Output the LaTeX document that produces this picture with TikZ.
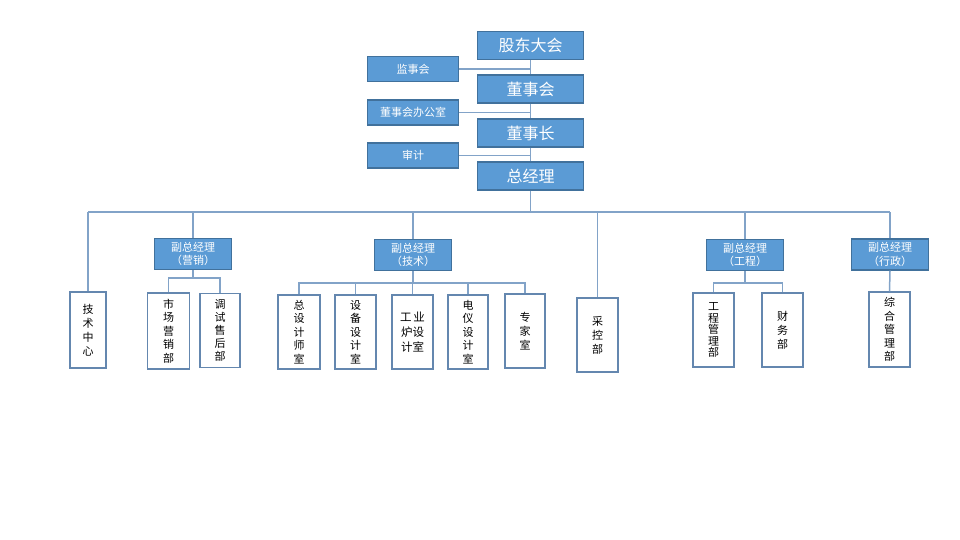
\documentclass[tikz,border=0pt]{standalone}
\usepackage{fontspec}
\setmainfont{Noto Sans CJK SC}
\definecolor{bfill}{RGB}{91,155,213}
\definecolor{bborder}{RGB}{65,113,156}
\definecolor{lcol}{RGB}{130,163,200}
\definecolor{wborder}{RGB}{100,135,175}
\tikzset{
  bigbox/.style={draw=bborder, fill=bfill, line width=1.3pt, minimum width=106pt, minimum height=28pt, text=white, inner sep=0pt, font=\fontsize{16}{18}\selectfont},
  sidebox/.style={draw=bborder, fill=bfill, line width=1.3pt, minimum width=91pt, minimum height=25pt, text=white, inner sep=0pt, font=\fontsize{11}{13}\selectfont},
  vpbox/.style={draw=bborder, fill=bfill, line width=1.3pt, minimum width=77pt, minimum height=31pt, text=white, inner sep=0pt, align=center, font=\fontsize{11}{13.5}\selectfont},
  deptbox/.style={draw=wborder, fill=white, line width=1.3pt, minimum width=40pt, minimum height=74pt, inner sep=0pt, align=center, font=\fontsize{11}{14}\selectfont},
  conn/.style={draw=lcol, line width=1.5pt}
}
\begin{document}
\begin{tikzpicture}[x=1pt,y=-1pt]
\useasboundingbox (0,0) rectangle (960,540);
% top chain
\node[bigbox] (gd)  at (530.5,45.5) {股东大会};
\node[bigbox] (dsh) at (530.5,89)   {董事会};
\node[bigbox] (dsz) at (530.5,133)  {董事长};
\node[bigbox] (zjl) at (530.5,176)  {总经理};
\node[sidebox] (jsh)  at (413,69)    {监事会};
\node[sidebox] (dsbg) at (413,112.5) {董事会办公室};
\node[sidebox] (sj)   at (413,155.5) {审计};
% vice presidents
\node[vpbox] (vp1) at (193,254) {副总经理\\（营销）};
\node[vpbox] (vp2) at (413,255) {副总经理\\（技术）};
\node[vpbox] (vp3) at (745,255) {副总经理\\（工程）};
\node[vpbox] (vp4) at (890,254.5) {副总经理\\（行政）};
% departments
\node[deptbox, minimum width=36pt, minimum height=76pt] (jszx) at (88,330) {技\\术\\中\\心};
\node[deptbox, minimum width=42pt, minimum height=76pt, font=\fontsize{11}{13.5}\selectfont] (scyx) at (168.5,331) {市\\场\\营\\销\\部};
\node[deptbox, font=\fontsize{11}{13}\selectfont] (tssh) at (220,330.5) {调\\试\\售\\后\\部};
\node[deptbox, minimum width=42pt, font=\fontsize{11}{13.5}\selectfont] (zsjs) at (299,332) {总\\设\\计\\师\\室};
\node[deptbox, minimum width=41pt, font=\fontsize{11}{13.5}\selectfont] (sbsj) at (355.5,332) {设\\备\\设\\计\\室};
\node[deptbox, minimum width=41pt, font=\fontsize{11.5}{15}\selectfont] (gylsj) at (412.5,332) {工\,业\\炉设\\计室};
\node[deptbox, font=\fontsize{11}{13.5}\selectfont] (dysj) at (468,332) {电\\仪\\设\\计\\室};
\node[deptbox] (zjs) at (525,331) {专\\家\\室};
\node[deptbox, minimum width=41pt] (ckb) at (597.5,335) {采\\控\\部};
\node[deptbox, minimum width=41pt, font=\fontsize{11}{11.5}\selectfont] (gcgl) at (713.5,330) {工\\程\\管\\理\\部};
\node[deptbox, minimum width=41pt] (cwb) at (782.5,330) {财\\务\\部};
\node[deptbox, minimum width=41pt, minimum height=75pt, font=\fontsize{11}{13.5}\selectfont] (zhgl) at (889.5,329.5) {综\\合\\管\\理\\部};
% bus
\coordinate (busL) at (88,212);
\coordinate (busR) at (890,212);
% spine
\draw[conn] (gd.south) -- (dsh.north);
\draw[conn] (dsh.south) -- (dsz.north);
\draw[conn] (dsz.south) -- (zjl.north);
\draw[conn] (zjl.south) -- (zjl.south |- busL);
\draw[conn] (jsh.east) -- (jsh.east -| gd.south);
\draw[conn] (dsbg.east) -- (dsbg.east -| gd.south);
\draw[conn] (sj.east) -- (sj.east -| gd.south);
% horizontal bus and drops
\draw[conn] (busL) -- (busR);
\draw[conn] (busL) -- (jszx.north);
\draw[conn] (vp1.north |- busL) -- (vp1.north);
\draw[conn] (vp2.north |- busL) -- (vp2.north);
\draw[conn] (ckb.north |- busL) -- (ckb.north);
\draw[conn] (vp3.north |- busL) -- (vp3.north);
\draw[conn] (busR) -- (vp4.north);
% sub-trees
\draw[conn] (vp1.south) -- ++(0,8) -| (scyx.north);
\draw[conn] (vp1.south) -- ++(0,8) -| (tssh.north);
\foreach \c in {zsjs,sbsj,gylsj,dysj,zjs}{
  \draw[conn] (vp2.south) -- ++(0,12) -| (\c.north);
}
\draw[conn] (vp3.south) -- ++(0,12) -| (gcgl.north);
\draw[conn] (vp3.south) -- ++(0,12) -| (cwb.north);
\draw[conn] (vp4.south) -- (zhgl.north);
\end{tikzpicture}
\end{document}
